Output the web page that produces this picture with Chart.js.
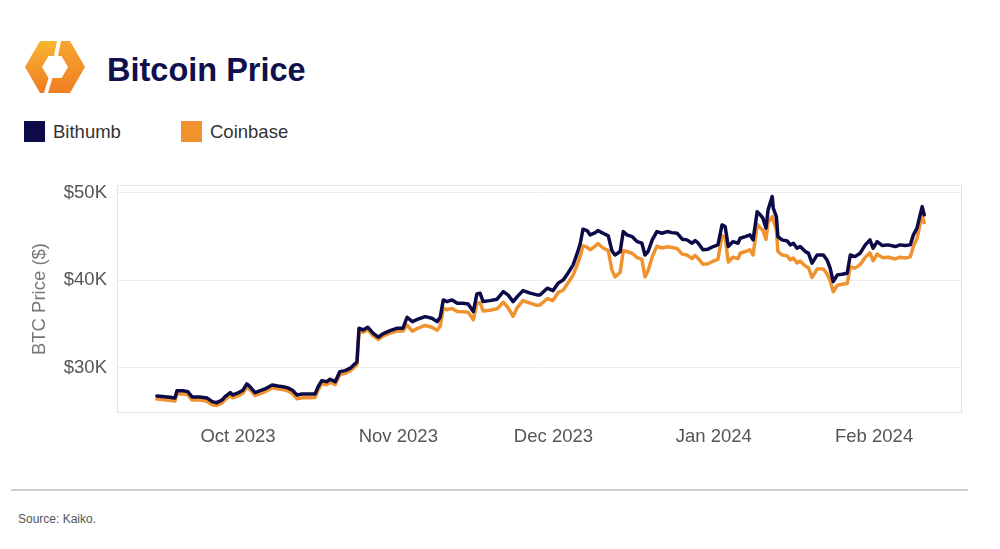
<!DOCTYPE html>
<html>
<head>
<meta charset="utf-8">
<script src="https://cdn.jsdelivr.net/npm/chart.js@4.4.1/dist/chart.umd.min.js"></script>
<style>
  body { margin: 0; width: 1000px; height: 549px; background: #fff; font-family: "Liberation Sans", Arial, sans-serif; position: relative; overflow: hidden; }
  #logo { position: absolute; left: 22px; top: 38px; }
  #title { position: absolute; left: 107px; top: 52px; font-size: 32.5px; font-weight: bold; color: #10104d; }
  .leg { position: absolute; top: 121px; font-size: 18.5px; color: #333; }
  .leg span { display: inline-block; width: 21px; height: 21px; vertical-align: -4px; margin-right: 8px; }
  #wrap { position: absolute; left: 0; top: 160px; }
  #rule { position: absolute; left: 11px; top: 489px; width: 957px; height: 0; border-top: 2px solid #cfcfcf; }
  #source { position: absolute; left: 18px; top: 512px; font-size: 12px; color: #555; }
</style>
</head>
<body>
<svg id="logo" width="66" height="60" viewBox="22 38 66 60">
  <defs>
    <linearGradient id="gl" x1="0" y1="0" x2="0" y2="1">
      <stop offset="0" stop-color="#f8b632"/>
      <stop offset="1" stop-color="#ef7b22"/>
    </linearGradient>
    <linearGradient id="gr" x1="0" y1="0" x2="0" y2="1">
      <stop offset="0" stop-color="#f6a530"/>
      <stop offset="1" stop-color="#ef7f24"/>
    </linearGradient>
  </defs>
  <polygon fill="url(#gl)" points="57,41 40,41 25,67 40,93 44,93 48.5,78 42,67 48.5,56 54,56"/>
  <polygon fill="url(#gr)" points="61,41 70,41 85,67 70,93 48,93 52.5,78 61.5,78 68,67 61.5,56 58,56"/>
</svg>
<div id="title">Bitcoin Price</div>
<div class="leg" style="left:24px"><span style="background:#0c0b48"></span>Bithumb</div>
<div class="leg" style="left:181px"><span style="background:#f0922e"></span>Coinbase</div>
<div id="wrap"><canvas id="chart" width="1000" height="293"></canvas></div>
<div id="rule"></div>
<div id="source">Source: Kaiko.</div>
<script>
// days counted from 1 Oct 2023
const days = [
  -15.7, -13.2, -12.2, -11.8, -10.6, -9.7, -8.9, -7.4, -6.0, -5.0, -4.1, -3.1, -2.5, -1.5, -1.0,
  0, 1.0, 1.7, 2.3, 3.3, 4.3, 5.2, 6.6, 7.7, 8.7, 9.7, 10.6, 11.4, 12.4, 13.5, 14.9, 15.5, 16.2,
  17.2, 17.8, 18.8, 19.7, 20.7, 21.7, 22.6, 23.0, 23.4, 24.2, 25.1, 26.1, 27.1, 28.0, 29.4, 30.8,
  31.9, 32.7, 33.7, 34.8, 36.2, 37.5, 38.5, 39.1, 39.7, 40.4, 41.4, 42.4, 43.5, 44.5, 45.5, 46.2,
  46.8, 47.4, 48.7, 50.1, 51.3, 52.2, 53.2, 54.0, 55.1, 56.5, 57.8, 58.4, 59.8, 60.9, 61.9, 62.9,
  63.8, 64.8, 65.6, 66.2, 66.7, 67.5, 68.1, 69.1, 69.6, 70.6, 71.6, 72.3, 72.9, 73.9, 74.5, 75.2,
  76.2, 77.2, 78.1, 78.7, 79.3, 80.1, 81.0, 82.0, 83.0, 83.9, 84.9, 85.9, 86.8, 87.8, 88.4, 89.0,
  89.9, 90.9, 91.9, 92.8, 93.6, 94.2, 94.8, 95.7, 96.7, 97.1, 98.1, 99.0, 99.6, 100.4, 101.0, 101.5,
  102.1, 102.5, 103.3, 103.5, 104.1, 104.4, 105.2, 106.2, 106.8, 107.4, 108.1, 108.7, 109.7, 110.3,
  111.0, 112.0, 113.2, 113.9, 114.5, 115.1, 115.9, 116.8, 117.8, 118.4, 119.3, 120.3, 121.3, 122.2,
  122.8, 123.6, 124.6, 125.7, 127.1, 128.0, 129.0, 130.0, 130.6, 131.3, 131.9, 132.3, 132.7
];

const bithumb = [
  26800, 26650, 26570, 27400, 27400, 27290, 26690, 26690, 26570, 26150, 26030, 26340, 26720, 27180, 26910,
  27140, 27490, 28170, 27860, 27180, 27410, 27600, 28060, 27940, 27860, 27710, 27410, 26910, 27030, 27030, 27030, 27860, 28550,
  28430, 28710, 28430, 29580, 29690, 29970, 30460, 30690, 34540, 34340, 34650, 33970, 33510, 33890, 34260, 34540,
  34540, 35790, 35290, 35570, 35860, 35680, 35290, 35790, 37770, 37580, 37770, 37390, 37390, 37310, 36430, 38460,
  38540, 37580, 37690, 37850, 38720, 38340, 37580, 38150, 38830, 38540, 38340, 38340, 39110, 38830, 39680, 40060,
  40820, 41770, 43110, 44250, 45850, 45690, 45200, 45460, 45690, 45390, 45090, 43400, 42900, 43300, 45580, 45200,
  45010, 44430, 44250, 42900, 43300, 44630, 45580, 45390, 45580, 45460, 45390, 44710, 44630, 44250, 44550, 44250,
  43490, 43570, 43870, 44060, 46340, 46150, 43870, 44430, 44250, 44820, 45010, 45200, 44630, 47860, 47490, 47110,
  45970, 48060, 49580, 48250, 47290, 45010, 44630, 44510, 44060, 44250, 43680, 43870, 43290, 43110,
  41970, 42910, 42910, 42340, 41390, 39860, 40630, 40710, 40820, 42910, 42720, 43110, 44060, 44630,
  43680, 44430, 43980, 44060, 43870, 44060, 43980, 44060, 45200, 45970, 47490, 48430, 47490
];

const coinbase = [
  26450, 26300, 26220, 27050, 27020, 26950, 26330, 26350, 26200, 25800, 25700, 26000, 26380, 26850, 26580,
  26800, 27150, 27850, 27520, 26850, 27080, 27270, 27720, 27600, 27520, 27350, 27020, 26480, 26580, 26600, 26620, 27500, 28200,
  28080, 28380, 28100, 29250, 29380, 29650, 30150, 30400, 34250, 34070, 34380, 33700, 33250, 33620, 33980, 34250,
  34220, 34900, 34200, 34550, 34850, 34650, 34300, 34800, 36800, 36650, 36800, 36450, 36420, 36350, 35500, 37400,
  37450, 36500, 36600, 36750, 37500, 36900, 35900, 36900, 37700, 37400, 37150, 37200, 37900, 37700, 38600, 38900,
  39700, 40600, 41800, 42800, 43950, 43800, 43500, 43950, 44200, 43700, 43400, 41200, 40400, 40900, 43400, 43300,
  43100, 42600, 42400, 40400, 41100, 42700, 43900, 43700, 43850, 43750, 43650, 43000, 42900, 42500, 42850, 42500,
  41850, 41900, 42200, 42400, 45100, 44900, 42100, 42650, 42500, 43100, 43300, 43500, 42900, 46400, 46000, 45700,
  44700, 46600, 47300, 46900, 45800, 43300, 42900, 42800, 42350, 42550, 42000, 42200, 41650, 41450,
  40350, 41300, 41300, 40750, 39950, 38700, 39450, 39550, 39650, 41550, 41400, 41800, 42650, 43150,
  42250, 43000, 42600, 42650, 42450, 42650, 42550, 42700, 43900, 44800, 46400, 47400, 46600
];

const monthTicks = [0, 31, 61, 92, 123];
const monthLabels = ['Oct 2023', 'Nov 2023', 'Dec 2023', 'Jan 2024', 'Feb 2024'];
const priceTicks = [30000, 40000, 50000];

const font = { family: '"Liberation Sans", Arial, sans-serif', size: 18.5 };

// thin frame round the plot area
const frame = {
  id: 'frame',
  beforeDatasetsDraw(chart) {
    const a = chart.chartArea, ctx = chart.ctx;
    ctx.save();
    ctx.strokeStyle = '#e3e3e3';
    ctx.lineWidth = 1;
    ctx.strokeRect(a.left + 0.5, a.top + 0.5, a.right - a.left - 1, a.bottom - a.top - 1);
    ctx.restore();
  }
};

new Chart(document.getElementById('chart'), {
  type: 'line',
  data: {
    datasets: [{
      label: 'Bithumb',
      data: days.map((d, i) => ({ x: d, y: bithumb[i] })),
      borderColor: '#0c0b48',
      borderWidth: 3.5,
      borderJoinStyle: 'round',
      borderCapStyle: 'round',
      pointRadius: 0,
      tension: 0
    }, {
      label: 'Coinbase',
      data: days.map((d, i) => ({ x: d, y: coinbase[i] })),
      borderColor: '#f0922e',
      borderWidth: 3.5,
      borderJoinStyle: 'round',
      borderCapStyle: 'round',
      pointRadius: 0,
      tension: 0
    }]
  },
  options: {
    responsive: false,
    animation: false,
    layout: { padding: { left: 0, right: 38, top: 25, bottom: 0 } },
    plugins: { legend: { display: false }, tooltip: { enabled: false } },
    scales: {
      x: {
        type: 'linear',
        min: -23.4,
        max: 140,
        afterBuildTicks: s => { s.ticks = monthTicks.map(v => ({ value: v })); },
        afterFit: s => { s.height = 40; },
        grid: { display: false, drawTicks: false },
        border: { display: false },
        ticks: {
          color: '#555',
          font: font,
          padding: 13,
          maxRotation: 0,
          autoSkip: false,
          callback: v => monthLabels[monthTicks.indexOf(v)]
        }
      },
      y: {
        min: 24850,
        max: 50900,
        afterBuildTicks: s => { s.ticks = priceTicks.map(v => ({ value: v })); },
        afterFit: s => { s.width = 117; },
        grid: { color: '#ececec', drawTicks: false },
        border: { display: false },
        ticks: {
          color: '#555',
          font: font,
          padding: 10,
          callback: v => '$' + v / 1000 + 'K'
        },
        title: {
          display: true,
          text: 'BTC Price ($)',
          color: '#777',
          font: font,
          padding: { top: 29, bottom: 0 }
        }
      }
    }
  },
  plugins: [frame]
});
</script>
</body>
</html>
